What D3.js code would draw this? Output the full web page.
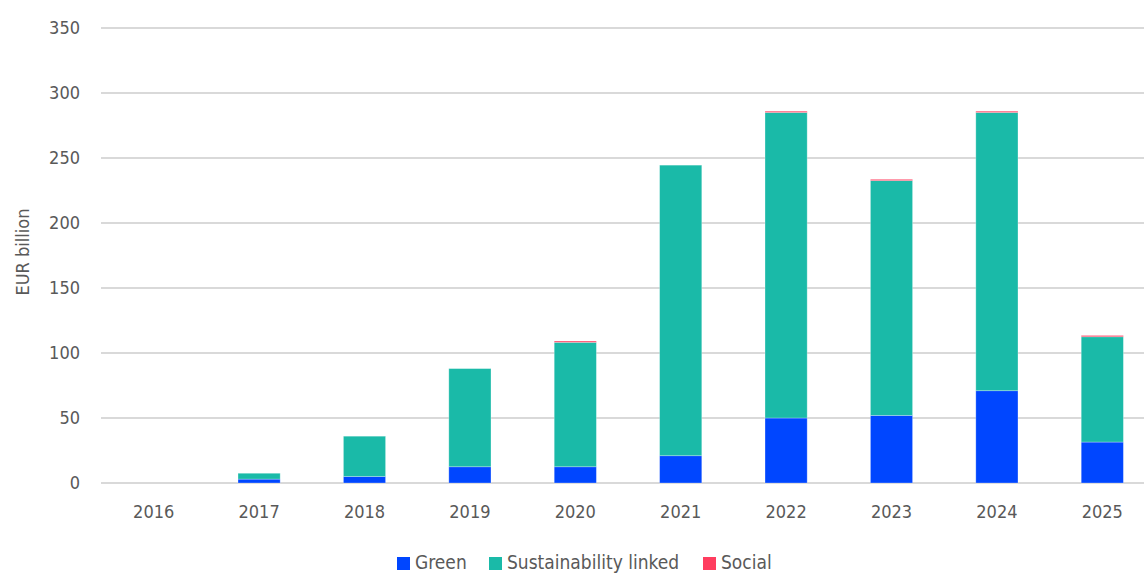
<!DOCTYPE html>
<html>
<head>
<meta charset="utf-8">
<script src="https://cdn.jsdelivr.net/npm/d3@7"></script>
<style>
  html, body { margin: 0; padding: 0; background: #fff; }
  svg { display: block; }
  text { font-family: "DejaVu Sans Condensed", "DejaVu Sans", sans-serif; fill: #595959; }
</style>
</head>
<body>
<svg id="chart" width="1144" height="574"></svg>
<script>
// Issuance by year, EUR billion
const years = ["2016", "2017", "2018", "2019", "2020", "2021", "2022", "2023", "2024", "2025"];
const green = [0, 3, 5, 12.5, 12.5, 21, 50, 52, 71, 31.5];
const sustainabilityLinked = [0, 4.5, 31, 75.5, 95.7, 223.5, 235, 180.6, 214, 81];
const social = [0, 0, 0, 0, 1, 0, 1, 1, 1, 1];
const yTicks = [0, 50, 100, 150, 200, 250, 300, 350];

const seriesNames = ["Green", "Sustainability linked", "Social"];
const colors = ["#0046ff", "#1abaa8", "#ff3d5f"];

const rows = years.map((y, i) => ({
  year: y,
  "Green": green[i],
  "Sustainability linked": sustainabilityLinked[i],
  "Social": social[i]
}));

const svg = d3.select("#chart");
const x = d3.scaleBand().domain(years).range([101, 1155]).paddingInner(0.6).paddingOuter(0.3);
const y = d3.scaleLinear().domain([0, 350]).range([483, 28]);

// gridlines
svg.append("g")
  .selectAll("line")
  .data(yTicks)
  .join("line")
  .attr("x1", 101).attr("x2", 1144)
  .attr("y1", d => y(d)).attr("y2", d => y(d))
  .attr("stroke", "#d9d9d9").attr("stroke-width", 2);

// y axis labels
const yAxis = d3.axisLeft(y).tickValues(yTicks).tickSize(0).tickPadding(0);
svg.append("g")
  .attr("transform", "translate(80,0)")
  .call(yAxis)
  .call(g => g.select(".domain").remove())
  .call(g => g.selectAll("text").attr("font-size", 18).attr("fill", "#595959")
    .style("font-family", "'DejaVu Sans Condensed', sans-serif"));

// x axis labels
const xAxis = d3.axisBottom(x).tickSize(0).tickPadding(0);
svg.append("g")
  .attr("transform", "translate(0,505)")
  .call(xAxis)
  .call(g => g.select(".domain").remove())
  .call(g => g.selectAll("text").attr("font-size", 18).attr("fill", "#595959")
    .style("font-family", "'DejaVu Sans Condensed', sans-serif"));

// y axis title
svg.append("text")
  .attr("transform", "translate(29,252) rotate(-90)")
  .attr("text-anchor", "middle")
  .attr("font-size", 18)
  .text("EUR billion");

// stacked bars
const stacked = d3.stack().keys(seriesNames)(rows);
svg.append("g")
  .selectAll("g")
  .data(stacked)
  .join("g")
  .attr("fill", (d, i) => colors[i])
  .selectAll("rect")
  .data(d => d)
  .join("rect")
  .attr("x", d => x(d.data.year))
  .attr("width", x.bandwidth())
  .attr("y", d => y(d[1]))
  .attr("height", d => Math.max(0, y(d[0]) - y(d[1])))
  .attr("stroke", "rgba(255,255,255,0.35)")
  .attr("stroke-width", 0.8);

// legend
const legendItems = [
  { name: "Green", color: colors[0], x: 397 },
  { name: "Sustainability linked", color: colors[1], x: 489 },
  { name: "Social", color: colors[2], x: 703 }
];
const legend = svg.append("g");
legendItems.forEach(it => {
  legend.append("rect")
    .attr("x", it.x).attr("y", 557)
    .attr("width", 13).attr("height", 13)
    .attr("fill", it.color);
  legend.append("text")
    .attr("x", it.x + 18).attr("y", 569)
    .attr("font-size", 19)
    .text(it.name);
});
</script>
</body>
</html>
